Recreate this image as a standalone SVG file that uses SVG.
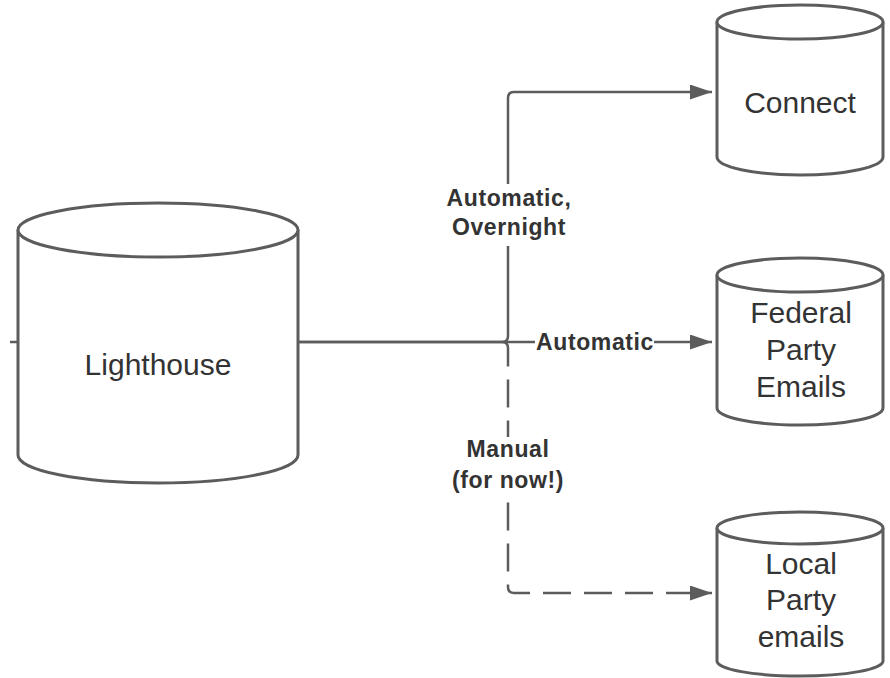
<svg xmlns="http://www.w3.org/2000/svg" width="890" height="678" viewBox="0 0 890 678">
<style>
.cyl{fill:#ffffff;stroke:#5c5c5c;stroke-width:3}
.node{font-family:"Liberation Sans",Arial,sans-serif;font-size:30px;fill:#333333;text-anchor:middle}
.lbl{font-family:"Liberation Sans",Arial,sans-serif;font-size:23px;font-weight:bold;fill:#333333;text-anchor:middle;letter-spacing:0.6px}
.conn{fill:none;stroke:#5c5c5c;stroke-width:2.5}
.dash{stroke-dasharray:28 13}
</style>
<defs>
<marker id="arr" viewBox="0 0 22 15" refX="22" refY="7.5" markerWidth="22" markerHeight="15" markerUnits="userSpaceOnUse" orient="auto">
<path d="M0,0 L22,7.5 L0,15 Z" fill="#5c5c5c"/>
</marker>
</defs>
<rect width="890" height="678" fill="#ffffff"/>
<g id="connectors">
<line class="conn" x1="10" y1="342" x2="18" y2="342"/>
<path class="conn" d="M298,342 H502 Q508,342 508,336 V98 Q508,92 514,92 H712" marker-end="url(#arr)"/>
<path class="conn" d="M298,342 H712" marker-end="url(#arr)"/>
<path class="conn dash" d="M502,342 Q508,342 508,348 V587 Q508,593 514,593 H712" marker-end="url(#arr)"/>
</g>
<g id="labels">
<rect x="440" y="184" width="136" height="62" fill="#ffffff"/>
<text class="lbl" x="509" y="206">Automatic,</text>
<text class="lbl" x="509" y="235">Overnight</text>
<rect x="535" y="331" width="119" height="22" fill="#ffffff"/>
<text class="lbl" x="595" y="350">Automatic</text>
<rect x="446" y="437" width="122" height="60" fill="#ffffff"/>
<text class="lbl" x="508" y="457">Manual</text>
<text class="lbl" x="508" y="488">(for now!)</text>
</g>
<g id="lighthouse">
<path class="cyl" d="M18,230 V455 A140,28 0 0 0 298,455 V230"/>
<ellipse class="cyl" cx="158" cy="230" rx="140" ry="27"/>
<text class="node" x="158" y="375">Lighthouse</text>
</g>
<g id="connect">
<path class="cyl" d="M717,22 V157 A83,18 0 0 0 883,157 V22"/>
<ellipse class="cyl" cx="800" cy="22" rx="83" ry="17"/>
<text class="node" x="800" y="113">Connect</text>
</g>
<g id="federal">
<path class="cyl" d="M717,275 V408 A83,17 0 0 0 883,408 V275"/>
<ellipse class="cyl" cx="800" cy="275" rx="83" ry="17"/>
<text class="node" x="801" y="323">Federal</text>
<text class="node" x="801" y="360">Party</text>
<text class="node" x="801" y="397">Emails</text>
</g>
<g id="local">
<path class="cyl" d="M717,528 V661 A83,15 0 0 0 883,661 V528"/>
<ellipse class="cyl" cx="800" cy="528" rx="83" ry="16"/>
<text class="node" x="801" y="574">Local</text>
<text class="node" x="801" y="610">Party</text>
<text class="node" x="801" y="647">emails</text>
</g>
</svg>
